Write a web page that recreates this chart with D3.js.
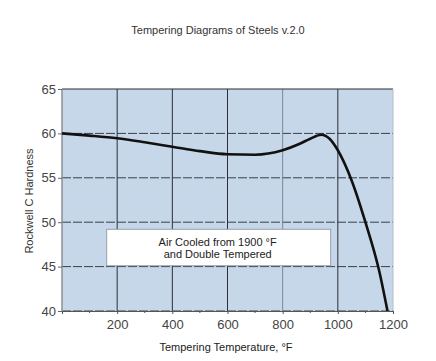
<!DOCTYPE html>
<html>
<head>
<meta charset="utf-8">
<script src="https://cdn.jsdelivr.net/npm/d3@7/dist/d3.min.js"></script>
<style>
  body { margin: 0; background: #fff; }
  text { font-family: "Liberation Sans", Arial, sans-serif; }
</style>
</head>
<body>
<div class="main-container"></div>
<script>
// data
const temps    = [0, 100, 200, 300, 400, 500, 600, 700, 800, 860, 900, 940, 970, 1000, 1050, 1100, 1150, 1180];
const hardness = [60, 59.75, 59.45, 59.0, 58.5, 58.0, 57.65, 57.6, 58.1, 58.8, 59.4, 59.85, 59.4, 58.1, 54.7, 50, 44.5, 40];
const xTicks = [200, 400, 600, 800, 1000, 1200];
const xMinor = [100, 300, 500, 700, 900, 1100];
const yTicks = [40, 45, 50, 55, 60, 65];
const noteLines = ['Air Cooled from 1900 \u00b0F', 'and Double Tempered'];

const width = 436, height = 361;
const margin = {t: 89, r: 43, b: 50, l: 62};

const svg = d3.select('.main-container').append('svg')
    .attr('width', width)
    .attr('height', height);

const x = d3.scaleLinear().domain([0, 1200]).range([margin.l, width - margin.r]);
const y = d3.scaleLinear().domain([40, 65]).range([height - margin.b, margin.t]);

// plot background
svg.append('rect')
    .attr('x', x(0)).attr('y', y(65))
    .attr('width', x(1200) - x(0)).attr('height', y(40) - y(65))
    .attr('fill', '#c6d7ea');

// horizontal grid
svg.append('g').selectAll('line')
    .data(yTicks.filter(d => d < 65))
    .join('line')
    .attr('x1', x(0)).attr('x2', x(1200))
    .attr('y1', d => y(d)).attr('y2', d => y(d))
    .attr('stroke', '#3a3f4a')
    .attr('stroke-width', 1)
    .attr('stroke-dasharray', '9,2');

// vertical grid
svg.append('g').selectAll('line')
    .data(xTicks.filter(d => d < 1200))
    .join('line')
    .attr('x1', d => x(d)).attr('x2', d => x(d))
    .attr('y1', y(65)).attr('y2', y(40))
    .attr('stroke', d => d == 800 ? '#7d8794' : '#2b2f38')
    .attr('stroke-width', 1);

// frame
svg.append('line')
    .attr('x1', x(0)).attr('x2', x(1200)).attr('y1', y(65)).attr('y2', y(65))
    .attr('stroke', '#2b2f38').attr('stroke-width', 1.2);
svg.append('line')
    .attr('x1', x(0)).attr('x2', x(0)).attr('y1', y(65)).attr('y2', y(40))
    .attr('stroke', '#8a8f96').attr('stroke-width', 1.5);
svg.append('line')
    .attr('x1', x(1200)).attr('x2', x(1200)).attr('y1', y(65)).attr('y2', y(40))
    .attr('stroke', '#b5bcc6').attr('stroke-width', 1);

// note box
const boxX0 = 162, boxX1 = 974, boxY0 = 49.2, boxY1 = 45.1;
svg.append('rect')
    .attr('x', x(boxX0)).attr('y', y(boxY0))
    .attr('width', x(boxX1) - x(boxX0)).attr('height', y(boxY1) - y(boxY0))
    .attr('fill', '#fff')
    .attr('stroke', '#9aa0a8').attr('stroke-width', 1);
svg.append('g').selectAll('text')
    .data(noteLines)
    .join('text')
    .attr('x', x((boxX0 + boxX1) / 2) - 1)
    .attr('y', (d, i) => y(boxY0) + 17 + i * 12)
    .attr('text-anchor', 'middle')
    .attr('font-size', 11)
    .attr('fill', '#222')
    .text(d => d);

// curve
const pts = temps.map((t, i) => [t, hardness[i]]);
svg.append('path')
    .datum(pts)
    .attr('d', d3.line().x(d => x(d[0])).y(d => y(d[1])).curve(d3.curveMonotoneX))
    .attr('fill', 'none')
    .attr('stroke', '#111')
    .attr('stroke-width', 2.6);

// x axis
const xAxis = svg.append('g')
    .attr('transform', `translate(0,${y(40)})`)
    .call(d3.axisBottom(x).tickValues(xTicks).tickSize(3).tickPadding(6).tickFormat(d3.format('d')));
xAxis.select('.domain').attr('stroke', '#555');
xAxis.selectAll('.tick line').attr('stroke', '#555');
xAxis.selectAll('text').attr('font-size', 13).attr('fill', '#444').attr('font-family', '"Liberation Sans", Arial, sans-serif');
xAxis.append('g').selectAll('line')
    .data(xMinor)
    .join('line')
    .attr('x1', d => x(d)).attr('x2', d => x(d))
    .attr('y1', 0).attr('y2', 2)
    .attr('stroke', '#555');

// y axis
const yAxis = svg.append('g')
    .attr('transform', `translate(${x(0)},0)`)
    .call(d3.axisLeft(y).tickValues(yTicks).tickSize(4).tickPadding(2));
yAxis.select('.domain').remove();
yAxis.selectAll('.tick line').attr('stroke', '#666');
yAxis.selectAll('text').attr('font-size', 13).attr('fill', '#444').attr('font-family', '"Liberation Sans", Arial, sans-serif');

// titles
svg.append('text')
    .attr('x', 218).attr('y', 34)
    .attr('text-anchor', 'middle')
    .attr('font-size', 11)
    .attr('fill', '#333')
    .text('Tempering Diagrams of Steels v.2.0');

svg.append('text')
    .attr('x', 226).attr('y', 351)
    .attr('text-anchor', 'middle')
    .attr('font-size', 11)
    .attr('fill', '#222')
    .text('Tempering Temperature, \u00b0F');

svg.append('text')
    .attr('transform', `translate(33,${(y(40) + y(65)) / 2 + 1}) rotate(-90)`)
    .attr('text-anchor', 'middle')
    .attr('font-size', 11)
    .attr('fill', '#333')
    .text('Rockwell C Hardness');
</script>
</body>
</html>
